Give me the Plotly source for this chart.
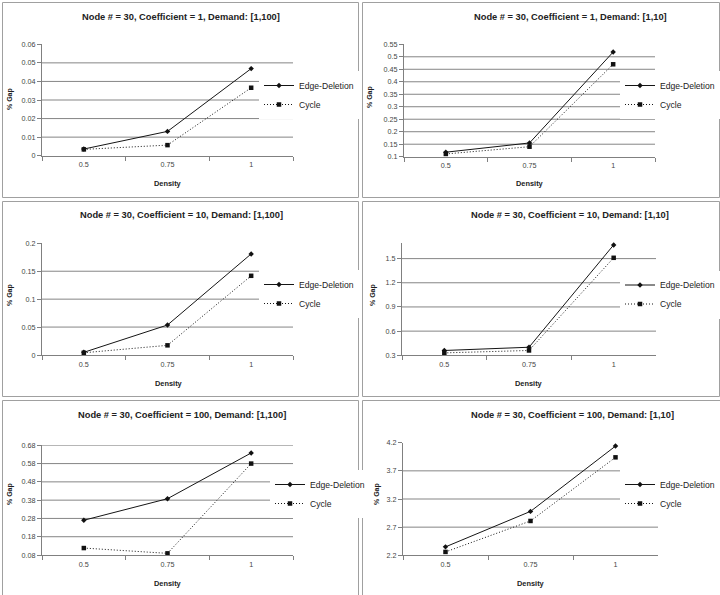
import plotly.graph_objects as go

W, H = 720, 595

density = ["0.5", "0.75", "1"]

titles = [
    "Node # = 30, Coefficient = 1, Demand: [1,100]",
    "Node # = 30, Coefficient = 1, Demand: [1,10]",
    "Node # = 30, Coefficient = 10, Demand: [1,100]",
    "Node # = 30, Coefficient = 10, Demand: [1,10]",
    "Node # = 30, Coefficient = 100, Demand: [1,100]",
    "Node # = 30, Coefficient = 100, Demand: [1,10]",
]

edge_c1_d100 = [0.0036, 0.0131, 0.0469]
cycle_c1_d100 = [0.0034, 0.0057, 0.0366]
edge_c1_d10 = [0.118, 0.155, 0.519]
cycle_c1_d10 = [0.111, 0.140, 0.470]
edge_c10_d100 = [0.0048, 0.0537, 0.181]
cycle_c10_d100 = [0.0040, 0.0173, 0.1418]
edge_c10_d10 = [0.36, 0.40, 1.67]
cycle_c10_d10 = [0.33, 0.36, 1.51]
edge_c100_d100 = [0.27, 0.388, 0.638]
cycle_c100_d100 = [0.118, 0.089, 0.58]
edge_c100_d10 = [2.35, 2.98, 4.14]
cycle_c100_d10 = [2.26, 2.81, 3.94]

edge_series = [edge_c1_d100, edge_c1_d10, edge_c10_d100, edge_c10_d10, edge_c100_d100, edge_c100_d10]
cycle_series = [cycle_c1_d100, cycle_c1_d10, cycle_c10_d100, cycle_c10_d10, cycle_c100_d100, cycle_c100_d10]

ytick_vals = [
    [0, 0.01, 0.02, 0.03, 0.04, 0.05, 0.06],
    [0.1, 0.15, 0.2, 0.25, 0.3, 0.35, 0.4, 0.45, 0.5, 0.55],
    [0, 0.05, 0.1, 0.15, 0.2],
    [0.3, 0.6, 0.9, 1.2, 1.5],
    [0.08, 0.18, 0.28, 0.38, 0.48, 0.58, 0.68],
    [2.2, 2.7, 3.2, 3.7, 4.2],
]
ytick_text = [
    ["0", "0.01", "0.02", "0.03", "0.04", "0.05", "0.06"],
    ["0.1", "0.15", "0.2", "0.25", "0.3", "0.35", "0.4", "0.45", "0.5", "0.55"],
    ["0", "0.05", "0.1", "0.15", "0.2"],
    ["0.3", "0.6", "0.9", "1.2", "1.5"],
    ["0.08", "0.18", "0.28", "0.38", "0.48", "0.58", "0.68"],
    ["2.2", "2.7", "3.2", "3.7", "4.2"],
]
y_ranges = [[0, 0.06], [0.1, 0.55], [0, 0.2], [0.3, 1.69], [0.08, 0.68], [2.2, 4.2]]
grid_vals = [
    [0.01, 0.02, 0.03, 0.04, 0.05],
    [0.15, 0.2, 0.25, 0.3, 0.35, 0.4, 0.45, 0.5],
    [0.05, 0.1, 0.15],
    [0.6, 0.9, 1.2, 1.5],
    [0.18, 0.28, 0.38, 0.48, 0.58, 0.68],
    [2.7, 3.2, 3.7],
]

# layout geometry in pixels
plot_px = [  # x0, x1, ytop, ybottom
    (42, 293, 44.3, 155.7),
    (404, 655, 44.3, 156.7),
    (42, 293, 243.3, 355.0),
    (402, 656, 243.3, 355.3),
    (42, 293, 445.3, 555.0),
    (403, 658, 442.7, 555.3),
]
title_pos = [(181, 17), (570, 17), (181, 215), (570, 215), (182, 415), (572, 415)]
xlabel_pos = [(168, 183), (530, 183), (169, 383), (529, 383), (168, 583), (531, 583)]
ylabel_pos = [(10, 99), (370, 97), (10, 295), (373, 295), (10, 494), (377, 494)]
legend_pos = [(299, 95), (660, 95), (299, 294), (660, 294.5), (310, 494), (660, 494)]
boxes = [
    (2.5, 358.5, 2.5, 197.5),
    (362.5, 719.5, 2.5, 197.5),
    (2.5, 358.5, 201.5, 396.5),
    (362.5, 719.5, 201.5, 396.5),
    (2.5, 358.5, 400.5, 600),
    (362.5, 730, 400.5, 600),
]

FONT = "Liberation Sans, Arial, sans-serif"
AX = "#808080"

fig = go.Figure()
shapes = []
annotations = []
layout = dict(
    width=W, height=H, margin=dict(l=0, r=0, t=0, b=0, autoexpand=False),
    paper_bgcolor="white", plot_bgcolor="white",
    font=dict(family=FONT, color="#222"),
    showlegend=True,
)

for i in range(6):
    n = i + 1
    sfx = "" if n == 1 else str(n)
    xa, ya = "x" + sfx, "y" + sfx
    lg = "legend" + sfx
    x0, x1, yt, yb = plot_px[i]

    fig.add_trace(go.Scatter(
        x=density, y=edge_series[i], name="Edge-Deletion", mode="lines+markers",
        line=dict(color="#151515", width=1),
        marker=dict(symbol="diamond", size=4.2, color="#111"),
        xaxis=xa, yaxis=ya, legend=lg, cliponaxis=False,
    ))
    fig.add_trace(go.Scatter(
        x=density, y=cycle_series[i], name="Cycle", mode="lines+markers",
        line=dict(color="#151515", width=1, dash="1px,2px"),
        marker=dict(symbol="square", size=4.5, color="#111"),
        xaxis=xa, yaxis=ya, legend=lg, cliponaxis=False,
    ))

    layout["xaxis" + sfx] = dict(
        domain=[x0 / W, x1 / W], anchor=ya, type="category",
        range=[-0.5, 2.5], showgrid=False, zeroline=False,
        showline=True, linecolor=AX, linewidth=1,
        ticks="outside", tickson="boundaries", ticklen=4, tickcolor=AX, tickwidth=1,
        tickfont=dict(size=7.2, color="#444", family=FONT),
        ticklabelstandoff=2,
    )
    layout["yaxis" + sfx] = dict(
        domain=[1 - yb / H, 1 - yt / H], anchor=xa,
        range=y_ranges[i], showgrid=False, zeroline=False,
        showline=True, linecolor=AX, linewidth=1,
        tickmode="array", tickvals=ytick_vals[i], ticktext=ytick_text[i],
        ticks="outside", ticklen=4, tickcolor=AX, tickwidth=1,
        tickfont=dict(size=7.2, color="#444", family=FONT),
    )
    layout[lg] = dict(
        x=(legend_pos[i][0] - 40) / W, xanchor="left",
        y=1 - legend_pos[i][1] / H, yanchor="middle",
        bgcolor="white", borderwidth=0, itemwidth=30,
        font=dict(size=8.6, color="#222", family=FONT),
        tracegroupgap=0,
    )

    for g in grid_vals[i]:
        shapes.append(dict(
            type="line", xref=xa + " domain", yref=ya,
            x0=0, x1=1, y0=g, y1=g, layer="below",
            line=dict(color="#858585", width=1),
        ))

    bx0, bx1, by0, by1 = boxes[i]
    shapes.append(dict(
        type="rect", xref="paper", yref="paper",
        x0=bx0 / W, x1=bx1 / W, y0=1 - by1 / H, y1=1 - by0 / H,
        line=dict(color="#a0a0a0", width=1), layer="below",
    ))

    annotations.append(dict(
        text="<b>" + titles[i] + "</b>", xref="paper", yref="paper",
        x=title_pos[i][0] / W, y=1 - title_pos[i][1] / H,
        xanchor="center", yanchor="middle", showarrow=False,
        font=dict(size=9.3, color="#222", family=FONT),
    ))
    annotations.append(dict(
        text="<b>Density</b>", xref="paper", yref="paper",
        x=xlabel_pos[i][0] / W, y=1 - xlabel_pos[i][1] / H,
        xanchor="center", yanchor="middle", showarrow=False,
        font=dict(size=7.4, color="#222", family=FONT),
    ))
    annotations.append(dict(
        text="<b>% Gap</b>", xref="paper", yref="paper",
        x=ylabel_pos[i][0] / W, y=1 - ylabel_pos[i][1] / H,
        xanchor="center", yanchor="middle", showarrow=False, textangle=-90,
        font=dict(size=7, color="#222", family=FONT),
    ))

layout["shapes"] = shapes
layout["annotations"] = annotations
fig.update_layout(**layout)

fig.write_html("out.html")
